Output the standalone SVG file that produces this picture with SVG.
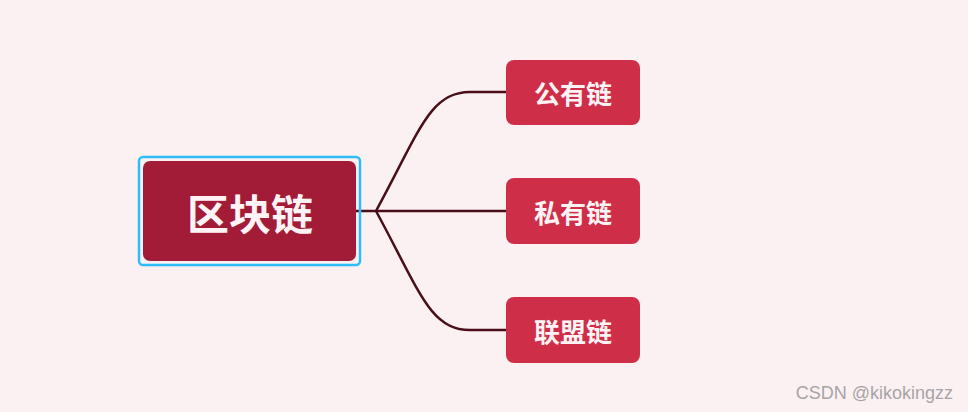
<svg xmlns="http://www.w3.org/2000/svg" width="968" height="412" viewBox="0 0 968 412">
<style>
.bg{fill:#FBF1F3}
.conn{fill:none;stroke:#4A0E18;stroke-width:2.5}
.child rect{fill:#CF2E48}
.lbl{font-family:"Noto Sans CJK SC","Noto Sans CJK TC",sans-serif;font-weight:bold;fill:#FFF3F5;text-anchor:middle;dominant-baseline:central}
</style>
<rect class="bg" x="0" y="0" width="968" height="412"/>
<g id="connectors">
<path class="conn" d="M356 211 H376"/>
<path class="conn" d="M376 211 C420 130 430 92 470 92 H506"/>
<path class="conn" d="M376 211 H506"/>
<path class="conn" d="M376 211 C420 292 430 330 470 330 H506"/>
</g>
<g id="root">
<rect x="139" y="157" width="221" height="108" rx="4" fill="none" stroke="#2DBEF7" stroke-width="2.5"/>
<rect x="143" y="161" width="213" height="100" rx="7" fill="#A21C38"/>
<text class="lbl" x="250" y="211" font-size="42">区块链</text>
</g>
<g id="public" class="child">
<rect x="506" y="60" width="134" height="65" rx="8"/>
<text class="lbl" x="573" y="92.5" font-size="26">公有链</text>
</g>
<g id="private" class="child">
<rect x="506" y="178" width="134" height="66" rx="8"/>
<text class="lbl" x="573" y="211" font-size="26">私有链</text>
</g>
<g id="consortium" class="child">
<rect x="506" y="297" width="134" height="66" rx="8"/>
<text class="lbl" x="573" y="330" font-size="26">联盟链</text>
</g>
<text x="953" y="399" font-family="Liberation Sans, Arial, sans-serif" font-size="18" fill="#A8A4A6" text-anchor="end">CSDN @kikokingzz</text>
</svg>
